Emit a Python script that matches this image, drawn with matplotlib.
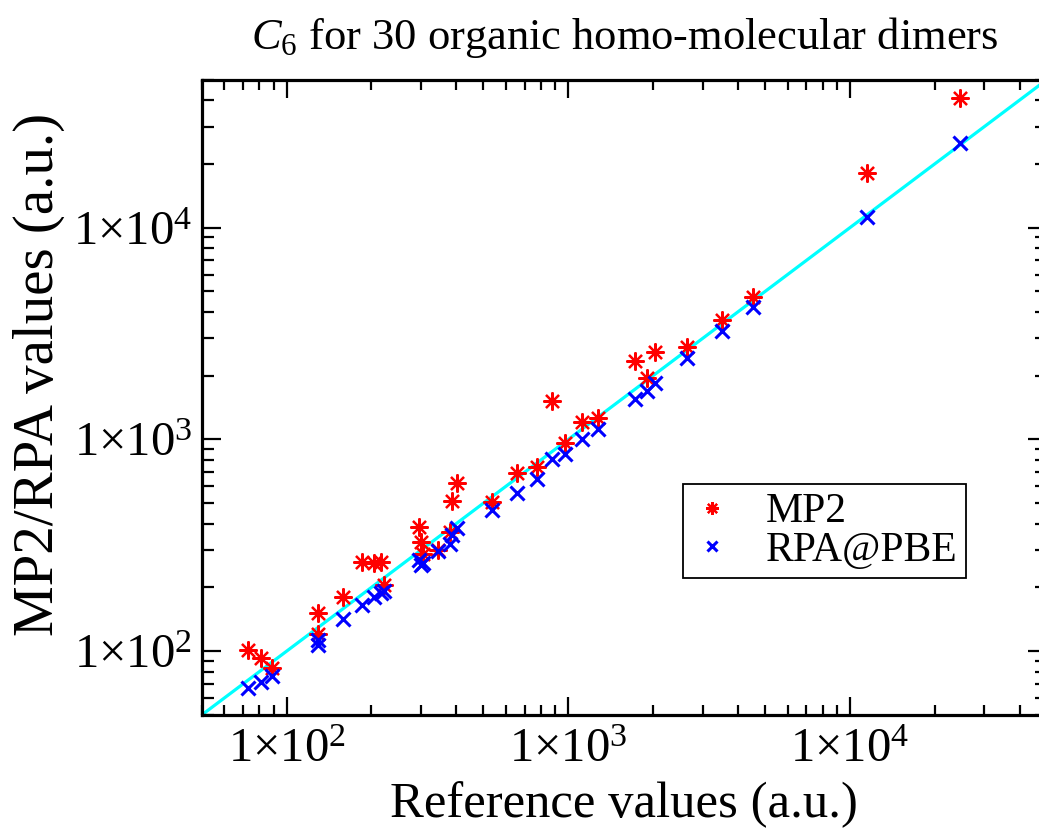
import numpy as np
import matplotlib
matplotlib.use("Agg")
import matplotlib.pyplot as plt
from matplotlib.ticker import LogLocator, FuncFormatter, NullFormatter

plt.rcParams['font.family'] = ['Liberation Serif', 'DejaVu Serif']
plt.rcParams['mathtext.fontset'] = 'custom'
plt.rcParams['mathtext.rm'] = 'Liberation Serif'
plt.rcParams['mathtext.it'] = 'Liberation Serif:italic'
plt.rcParams['mathtext.bf'] = 'Liberation Serif:bold'

# Reference C6 values (a.u.)
reference = [72.9, 81.0, 88.7, 129.1, 129.1, 158.5, 185.1, 204.2, 216.1, 221.5,
             294.9, 299.8, 304.7, 344.4, 379.8, 386.1, 402.2, 535.6, 656.9, 773.6,
             874.5, 972.5, 1117.6, 1274, 1723, 1901, 2029, 2636, 3510, 4522,
             11482, 24555]
# MP2 C6 values (a.u.)
mp2 = [101.9, 93.4, 82.9, 152.2, 121.2, 181.1, 264.9, 262.0, 264.9, 206.3,
       387.4, 329.2, 288.9, 301.7, 366.9, 513.8, 625.0, 508.3, 696.5, 743.2,
       1522, 964.7, 1212, 1266, 2350, 1954, 2593, 2737, 3669, 4711,
       18113, 40917]
# RPA@PBE C6 values (a.u.)
rpa = [67.4, 71.9, 76.8, 113.5, 107.5, 142.6, 166.1, 181.1, 189.2, 193.4,
       270.7, 256.4, 262.0, 298.5, 322.2, 355.2, 383.2, 466.1, 560.6, 652.7,
       810.9, 855.9, 1008, 1123, 1556, 1697, 1851, 2429, 3256, 4226,
       11233, 25087]
# y = x guide line endpoints
diagonal = [50, 50000]
axis_limits = [50, 50000]

title = r'$C_{\mathit{6}}$ for 30 organic homo-molecular dimers'
xlabel = 'Reference values (a.u.)'
ylabel = 'MP2/RPA values (a.u.)'

fig = plt.figure(figsize=(10.39, 8.30), dpi=100)
ax = fig.add_axes([0.19413, 0.13855, 0.81357, 0.76566])

ax.plot(diagonal, diagonal, color='#00ffff', lw=2.3, zorder=1)
ax.plot(reference, mp2, linestyle='none', marker=(8, 2, 0), markersize=13,
        markeredgewidth=1.6, color='#ff0000', label='MP2', zorder=2)
ax.plot(reference, rpa, linestyle='none', marker='x', markersize=9.5,
        markeredgewidth=2.2, color='#0000ff', label='RPA@PBE', zorder=3)

ax.set_xscale('log')
ax.set_yscale('log')
ax.set_xlim(axis_limits)
ax.set_ylim(axis_limits)

fmt = FuncFormatter(lambda v, pos: r'$\mathregular{1{\times}10^{%d}}$' % int(round(np.log10(v))))
for axis in (ax.xaxis, ax.yaxis):
    axis.set_major_locator(LogLocator(base=10, numticks=10))
    axis.set_minor_locator(LogLocator(base=10, subs=np.arange(2, 10), numticks=20))
    axis.set_major_formatter(fmt)
    axis.set_minor_formatter(NullFormatter())

ax.tick_params(which='both', direction='in', top=True, right=True, width=1.6,
               labelsize=35, colors='black')
ax.tick_params(axis='x', which='major', length=13, pad=9)
ax.tick_params(axis='x', which='minor', length=7)
ax.tick_params(axis='y', which='major', length=14, pad=7)
ax.tick_params(axis='y', which='minor', length=8.5)

for sp in ax.spines.values():
    sp.set_linewidth(2.3)

ax.set_xlabel(xlabel, fontsize=36.5, labelpad=7)
ax.set_ylabel(ylabel, fontsize=41)
ax.yaxis.set_label_coords(-0.162, 0.536)
ax.set_title(title, fontsize=32, pad=22)

leg = ax.legend(loc='lower left', bbox_to_anchor=(0.569, 0.2156), fontsize=30,
                frameon=True, fancybox=False, framealpha=1, edgecolor='black',
                borderpad=0.2, labelspacing=0.0, handlelength=1.0,
                handletextpad=0.8, borderaxespad=0, markerscale=0.7)
leg.get_frame().set_linewidth(1.3)

fig.savefig('out.png', dpi=100)
